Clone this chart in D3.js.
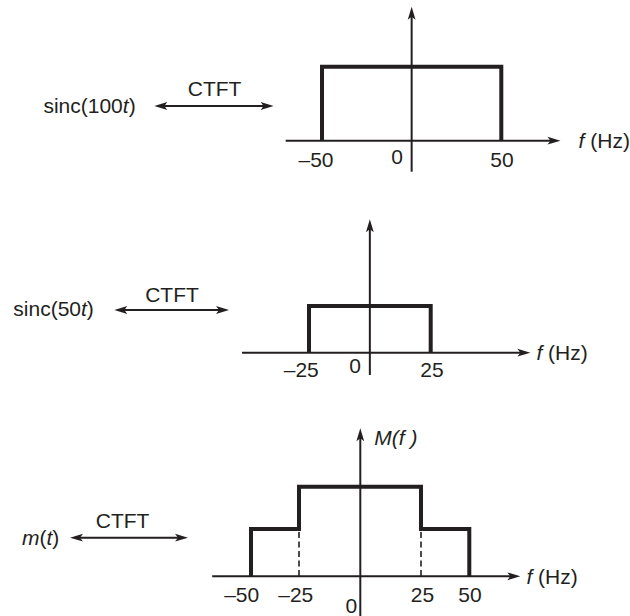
<!DOCTYPE html>
<html><head><meta charset="utf-8">
<script src="https://cdn.jsdelivr.net/npm/d3@7"></script>
<style>html,body{margin:0;padding:0;background:#fff}svg{display:block}text{font-family:"Liberation Sans",Arial,sans-serif;fill:#231f20}</style>
</head><body><svg id="c" width="630" height="616"></svg>
<script>
// ---- data ----
const topFreqs = [-50, -50, 50, 50];
const topMags  = [0, 1.0, 1.0, 0];
const midFreqs = [-25, -25, 25, 25];
const midMags  = [0, 0.63, 0.63, 0];
const botFreqs = [-50, -50, -25, -25, 25, 25, 50, 50];
const botMags  = [0, 0.64, 0.64, 1.21, 1.21, 0.64, 0.64, 0];
const botDashed = [-25, 25];
const topTicks = [-50, 0, 50];
const midTicks = [-25, 0, 25];
const botTicks = [-50, -25, 0, 25, 50];
const signalLabels = [["sinc(100", "t", ")"], ["sinc(50", "t", ")"], ["", "m", "(", "t", ")"]];
const transformLabel = "CTFT";

// ---- layout ----
const ink = "#231f20";
const FS = 21;
const svg = d3.select("#c");
const yPxPerUnit = 74;

const panels = [
  { freqs: topFreqs, mags: topMags, ticks: topTicks, tickDx: [-6, 0, 0.7], dashed: [],
    xDom: [-50, 50], xRng: [322, 501.3], y0: 140.7,
    axL: 285.7, axR: 560.5, yTop: 6.7, yBot: 171.7, tickBase: 166.7, zeroBase: 164, zeroDx: -8.7,
    arrow: [154.3, 273.6, 106], ctftX: 214.6, ctftBase: 96, sigX: 43.4, sigBase: 113,
    sig: 0, fX: 578.6, fBase: 147.5, ylab: null },
  { freqs: midFreqs, mags: midMags, ticks: midTicks, tickDx: [-7.7, 0, 1.3], dashed: [],
    xDom: [-25, 25], xRng: [309, 430.7], y0: 352.7,
    axL: 242, axR: 530.4, yTop: 219.3, yBot: 375, tickBase: 376.7, zeroBase: 373.3, zeroDx: -9,
    arrow: [114.3, 229, 310], ctftX: 172, ctftBase: 301.7, sigX: 13.3, sigBase: 315.5,
    sig: 1, fX: 536.4, fBase: 359.5, ylab: null },
  { freqs: botFreqs, mags: botMags, ticks: botTicks, tickDx: [-9.3, -3.2, 0, 1.5, 0.7], dashed: botDashed,
    xDom: [-50, -25, 0, 25, 50], xRng: [251, 299, 360.3, 421, 469.3], y0: 576.3,
    axL: 212.2, axR: 520.3, yTop: 428.3, yBot: 616, tickBase: 601.7, zeroBase: 613, zeroDx: -3,
    arrow: [70, 188, 537.7], ctftX: 122.6, ctftBase: 528.3, sigX: 22, sigBase: 545,
    sig: 2, fX: 526.4, fBase: 583.5, ylab: [374.3, 445] }
];

function head(g, x, y, angle) {
  // narrow filled arrowhead with tip at (x,y), pointing along angle (deg)
  g.append("path")
    .attr("d", "M0,0 L-13,-3.9 L-10,0 L-13,3.9 Z")
    .attr("transform", `translate(${x},${y}) rotate(${angle})`)
    .attr("fill", ink);
}

panels.forEach(p => {
  const g = svg.append("g");
  const x = d3.scaleLinear().domain(p.xDom).range(p.xRng);
  const y = d3.scaleLinear().domain([0, 1]).range([p.y0, p.y0 - yPxPerUnit]);
  const x0 = x(0);

  // x axis
  g.append("line").attr("x1", p.axL).attr("x2", p.axR - 8).attr("y1", p.y0).attr("y2", p.y0)
    .attr("stroke", ink).attr("stroke-width", 2);
  head(g, p.axR, p.y0, 0);
  // y axis
  g.append("line").attr("x1", x0).attr("x2", x0).attr("y1", p.yBot).attr("y2", p.yTop + 8)
    .attr("stroke", ink).attr("stroke-width", 2);
  head(g, x0, p.yTop, -90);

  // dashed guides
  p.dashed.forEach(f => {
    const lvl = d3.min(p.mags.filter((m, i) => p.freqs[i] === f && m > 0));
    g.append("line").attr("x1", x(f)).attr("x2", x(f)).attr("y1", y(lvl) + 3).attr("y2", p.y0)
      .attr("stroke", ink).attr("stroke-width", 1.6).attr("stroke-dasharray", "6,3.5");
  });

  // spectrum
  const line = d3.line().x(d => x(d[0])).y(d => y(d[1]));
  g.append("path").datum(p.freqs.map((f, i) => [f, p.mags[i]]))
    .attr("d", line).attr("fill", "none").attr("stroke", ink)
    .attr("stroke-width", 4).attr("stroke-linejoin", "miter").attr("stroke-linecap", "butt");

  // tick labels
  p.ticks.forEach((t, i) => {
    if (t === 0) {
      g.append("text").attr("x", x0 + p.zeroDx).attr("y", p.zeroBase).attr("text-anchor", "end")
        .attr("font-size", FS).text("0");
    } else {
      g.append("text").attr("x", x(t) + p.tickDx[i]).attr("y", p.tickBase)
        .attr("text-anchor", "middle").attr("font-size", FS)
        .text(t < 0 ? "\u2013" + Math.abs(t) : String(t));
    }
  });

  // f (Hz)
  const ft = g.append("text").attr("x", p.fX).attr("y", p.fBase).attr("font-size", FS);
  ft.append("tspan").attr("font-style", "italic").text("f");
  ft.append("tspan").text(" (Hz)");

  // M(f)
  if (p.ylab) {
    g.append("text").attr("x", p.ylab[0]).attr("y", p.ylab[1]).attr("font-size", FS)
      .attr("font-style", "italic").text("M(f )");
  }

  // CTFT double arrow
  const [ax1, ax2, ay] = p.arrow;
  g.append("line").attr("x1", ax1 + 8).attr("x2", ax2 - 8).attr("y1", ay).attr("y2", ay)
    .attr("stroke", ink).attr("stroke-width", 2);
  head(g, ax1, ay, 180);
  head(g, ax2, ay, 0);
  g.append("text").attr("x", p.ctftX).attr("y", p.ctftBase).attr("text-anchor", "middle")
    .attr("font-size", FS).text(transformLabel);

  // signal label
  const parts = signalLabels[p.sig];
  const st = g.append("text").attr("x", p.sigX).attr("y", p.sigBase).attr("font-size", FS);
  if (p.sig < 2) {
    st.append("tspan").text(parts[0]);
    st.append("tspan").attr("font-style", "italic").text(parts[1]);
    st.append("tspan").text(parts[2]);
  } else {
    st.append("tspan").attr("font-style", "italic").text(parts[1]);
    st.append("tspan").text(parts[2]);
    st.append("tspan").attr("font-style", "italic").text(parts[3]);
    st.append("tspan").text(parts[4]);
  }
});
</script></body></html>
